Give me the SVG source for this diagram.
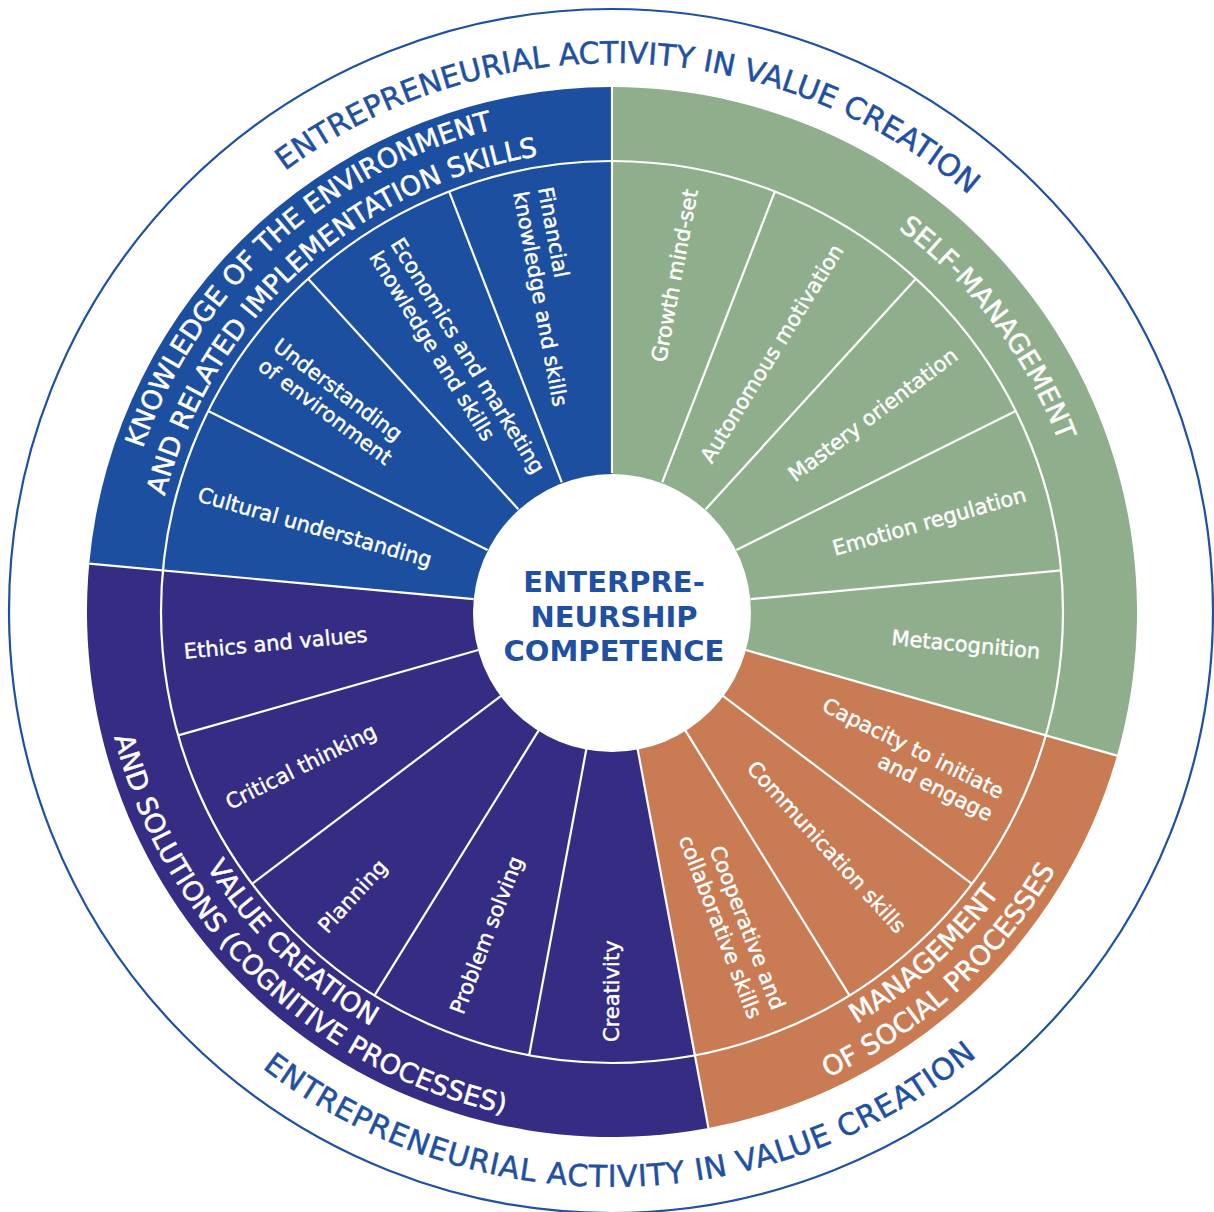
<svg xmlns="http://www.w3.org/2000/svg" xmlns:xlink="http://www.w3.org/1999/xlink" width="1214" height="1212" viewBox="0 0 1214 1212">
<style>
  text { font-family: "DejaVu Sans", "Liberation Sans", sans-serif; }
  .seg { font-size: 21px; fill: #ffffff; stroke: #ffffff; stroke-width: 0.45; }
  .out { text-anchor: end; }
  .in { text-anchor: start; }
  .cat { font-size: 27px; fill: #ffffff; stroke: #ffffff; stroke-width: 0.5; text-anchor: middle; }
  .ring { font-size: 30px; fill: #1f50a2; stroke: #1f50a2; stroke-width: 0.5; text-anchor: middle; }
  .ringb { letter-spacing: 0.8px; }
  .ctr { font-size: 29px; font-weight: bold; fill: #1f50a2; text-anchor: middle; }
  .div { stroke: #ffffff; stroke-width: 2.2; fill: none; }
</style>
<defs>
  <path id="ringTop" d="M75.0 497.9 A549 549 0 0 1 1155.66 535.59"/>
  <path id="ringBottom" d="M47.6 721.7 A575 575 0 0 0 1179.9 701.95"/>
  <path id="blueOuter" d="M192.11 877.92 A497 497 0 0 1 915.54 218.46"/>
  <path id="blueInner" d="M221.68 859.19 A462 462 0 0 1 894.16 246.17"/>
  <path id="greenArc" d="M394.55 186.32 A478 478 0 0 1 962.16 937.38"/>
  <path id="orangeInner" d="M319.46 991.29 A479 479 0 0 0 1016.68 355.71"/>
  <path id="orangeOuter" d="M298.69 1018.21 A513 513 0 0 0 1045.41 337.52"/>
  <path id="purpleInner" d="M214.89 344.15 A479 479 0 0 0 893.55 999.52"/>
  <path id="purpleOuter" d="M186.70 325.14 A513 513 0 0 0 913.54 1027.03"/>
</defs>

<g id="outer-ring">
  <circle cx="611" cy="611" r="602" fill="none" stroke="#1f50a2" stroke-width="2.2"/>
  <text class="ring"><textPath href="#ringTop" xlink:href="#ringTop" startOffset="50%">ENTREPRENEURIAL ACTIVITY IN VALUE CREATION</textPath></text>
  <text class="ring ringb"><textPath href="#ringBottom" xlink:href="#ringBottom" startOffset="50%">ENTREPRENEURIAL ACTIVITY IN VALUE CREATION</textPath></text>
</g>

<g id="sector-self-management">
  <path d="M612 612 L612 87 A525 525 0 0 1 1116.96 755.67 Z" fill="#8fae8c"/>
  <text class="cat"><textPath href="#greenArc" xlink:href="#greenArc" startOffset="50%">SELF-MANAGEMENT</textPath></text>
</g>
<g id="sector-social-processes">
  <path d="M612 612 L1116.96 755.67 A525 525 0 0 1 708.47 1128.06 Z" fill="#c97b53"/>
  <text class="cat"><textPath href="#orangeInner" xlink:href="#orangeInner" startOffset="50%">MANAGEMENT</textPath></text>
  <text class="cat"><textPath href="#orangeOuter" xlink:href="#orangeOuter" startOffset="50%">OF SOCIAL PROCESSES</textPath></text>
</g>
<g id="sector-value-creation">
  <path d="M612 612 L708.47 1128.06 A525 525 0 0 1 89.24 563.56 Z" fill="#352d84"/>
  <text class="cat"><textPath href="#purpleInner" xlink:href="#purpleInner" startOffset="50%">VALUE CREATION</textPath></text>
  <text class="cat"><textPath href="#purpleOuter" xlink:href="#purpleOuter" startOffset="50%">AND SOLUTIONS (COGNITIVE PROCESSES)</textPath></text>
</g>
<g id="sector-knowledge">
  <path d="M612 612 L89.24 563.56 A525 525 0 0 1 612 87 Z" fill="#1c4f9f"/>
  <text class="cat"><textPath href="#blueOuter" xlink:href="#blueOuter" startOffset="50%">KNOWLEDGE OF THE ENVIRONMENT</textPath></text>
  <text class="cat"><textPath href="#blueInner" xlink:href="#blueInner" startOffset="50%">AND RELATED IMPLEMENTATION SKILLS</textPath></text>
</g>

<g id="connectors" class="div" transform="translate(612 612)">
  <circle cx="0" cy="0" r="451"/>
  <line x1="0" y1="-139" x2="0" y2="-525" transform="rotate(0)"/>
  <line x1="0" y1="-139" x2="0" y2="-451" transform="rotate(21.1765)"/>
  <line x1="0" y1="-139" x2="0" y2="-451" transform="rotate(42.3529)"/>
  <line x1="0" y1="-139" x2="0" y2="-451" transform="rotate(63.5294)"/>
  <line x1="0" y1="-139" x2="0" y2="-451" transform="rotate(84.7059)"/>
  <line x1="0" y1="-139" x2="0" y2="-525" transform="rotate(105.8824)"/>
  <line x1="0" y1="-139" x2="0" y2="-451" transform="rotate(127.0588)"/>
  <line x1="0" y1="-139" x2="0" y2="-451" transform="rotate(148.2353)"/>
  <line x1="0" y1="-139" x2="0" y2="-525" transform="rotate(169.4118)"/>
  <line x1="0" y1="-139" x2="0" y2="-451" transform="rotate(190.5882)"/>
  <line x1="0" y1="-139" x2="0" y2="-451" transform="rotate(211.7647)"/>
  <line x1="0" y1="-139" x2="0" y2="-451" transform="rotate(232.9412)"/>
  <line x1="0" y1="-139" x2="0" y2="-451" transform="rotate(254.1176)"/>
  <line x1="0" y1="-139" x2="0" y2="-525" transform="rotate(275.2941)"/>
  <line x1="0" y1="-139" x2="0" y2="-451" transform="rotate(296.4706)"/>
  <line x1="0" y1="-139" x2="0" y2="-451" transform="rotate(317.6471)"/>
  <line x1="0" y1="-139" x2="0" y2="-451" transform="rotate(338.8235)"/>
</g>

<g id="node-growth" transform="translate(612 612) rotate(-79.412)"><text class="seg out" x="430" y="7">Growth mind-set</text></g>
<g id="node-autonomous" transform="translate(612 612) rotate(-58.235)"><text class="seg out" x="430" y="7">Autonomous motivation</text></g>
<g id="node-mastery" transform="translate(612 612) rotate(-37.059)"><text class="seg out" x="430" y="7">Mastery orientation</text></g>
<g id="node-emotion" transform="translate(612 612) rotate(-15.882)"><text class="seg out" x="430" y="7">Emotion regulation</text></g>
<g id="node-metacognition" transform="translate(612 612) rotate(5.294)"><text class="seg out" x="430" y="7">Metacognition</text></g>

<g id="node-capacity" transform="translate(612 612) rotate(26.471)"><text class="seg out" x="430" y="-5">Capacity to initiate</text><text class="seg out" x="430" y="20">and engage</text></g>
<g id="node-communication" transform="translate(612 612) rotate(47.647)"><text class="seg out" x="430" y="7">Communication skills</text></g>
<g id="node-cooperative" transform="translate(612 612) rotate(68.824)"><text class="seg out" x="430" y="-5">Cooperative and</text><text class="seg out" x="430" y="20">collaborative skills</text></g>

<g id="node-creativity" transform="translate(612 612) rotate(-90)"><text class="seg in" x="-430" y="7">Creativity</text></g>
<g id="node-problem-solving" transform="translate(612 612) rotate(-68.824)"><text class="seg in" x="-430" y="7">Problem solving</text></g>
<g id="node-planning" transform="translate(612 612) rotate(-47.647)"><text class="seg in" x="-430" y="7">Planning</text></g>
<g id="node-critical-thinking" transform="translate(612 612) rotate(-26.471)"><text class="seg in" x="-430" y="7">Critical thinking</text></g>
<g id="node-ethics" transform="translate(612 612) rotate(-5.294)"><text class="seg in" x="-430" y="7">Ethics and values</text></g>

<g id="node-cultural" transform="translate(612 612) rotate(15.882)"><text class="seg in" x="-430" y="7">Cultural understanding</text></g>
<g id="node-environment" transform="translate(612 612) rotate(37.059)"><text class="seg in" x="-430" y="-5">Understanding</text><text class="seg in" x="-430" y="20">of environment</text></g>
<g id="node-economics" transform="translate(612 612) rotate(58.235)"><text class="seg in" x="-430" y="-5">Economics and marketing</text><text class="seg in" x="-430" y="20">knowledge and skills</text></g>
<g id="node-financial" transform="translate(612 612) rotate(79.412)"><text class="seg in" x="-430" y="-5">Financial</text><text class="seg in" x="-430" y="20">knowledge and skills</text></g>

<g id="node-center">
  <circle cx="612" cy="613" r="139" fill="#ffffff"/>
  <text class="ctr" x="614" y="592">ENTERPRE-</text>
  <text class="ctr" x="614" y="627">NEURSHIP</text>
  <text class="ctr" x="614" y="661">COMPETENCE</text>
</g>
</svg>
